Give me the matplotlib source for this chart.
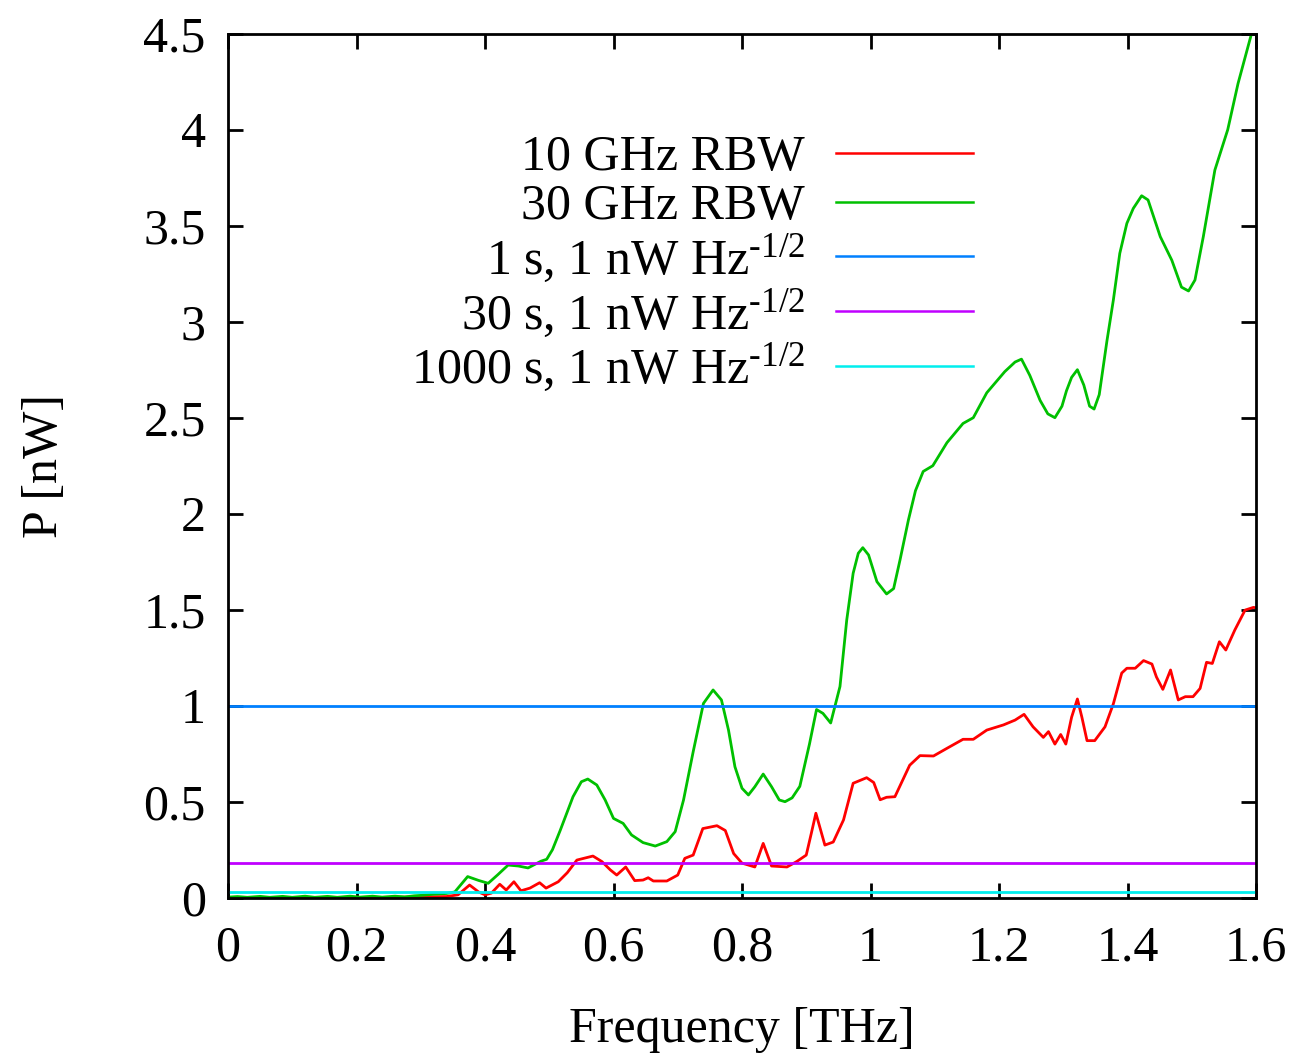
import matplotlib
matplotlib.use("Agg")
import matplotlib.pyplot as plt
import numpy as np

plt.rcParams['font.family'] = ['Liberation Serif', 'DejaVu Serif']
plt.rcParams['mathtext.fontset'] = 'custom'
plt.rcParams['mathtext.rm'] = 'Liberation Serif'
plt.rcParams['mathtext.it'] = 'Liberation Serif:italic'

# ---- data ----
freq_30 = [0.0, 0.015, 0.03, 0.05, 0.065, 0.085, 0.10, 0.12, 0.135, 0.155, 0.17, 0.19, 0.205,
           0.225, 0.24, 0.26, 0.275, 0.29, 0.30, 0.32, 0.34, 0.353, 0.363, 0.373, 0.39, 0.405,
           0.42, 0.436, 0.452, 0.467, 0.487, 0.496, 0.505, 0.517, 0.537, 0.550, 0.560, 0.574,
           0.587, 0.600, 0.615, 0.628, 0.646, 0.665, 0.683, 0.696, 0.709, 0.724, 0.740, 0.755,
           0.768, 0.779, 0.789, 0.80, 0.81, 0.82, 0.833, 0.846, 0.858, 0.867, 0.878, 0.89,
           0.905, 0.916, 0.926, 0.938, 0.9525, 0.963, 0.973, 0.981, 0.988, 0.997, 1.010, 1.025,
           1.036, 1.046, 1.059, 1.070, 1.082, 1.097, 1.119, 1.144, 1.160, 1.181, 1.209, 1.225,
           1.235, 1.248, 1.264, 1.276, 1.287, 1.298, 1.305, 1.313, 1.322, 1.332, 1.341, 1.348,
           1.356, 1.368, 1.378, 1.388, 1.399, 1.409, 1.422, 1.432, 1.451, 1.469, 1.484, 1.495,
           1.505, 1.518, 1.536, 1.556, 1.572, 1.593, 1.60]
power_30 = [0.003, 0.006, 0.002, 0.007, 0.002, 0.007, 0.002, 0.008, 0.002, 0.007, 0.002, 0.008, 0.003,
            0.008, 0.003, 0.008, 0.004, 0.010, 0.012, 0.018, 0.022, 0.03, 0.07, 0.11, 0.09, 0.075,
            0.12, 0.17, 0.165, 0.155, 0.19, 0.20, 0.25, 0.35, 0.526, 0.604, 0.618, 0.587,
            0.509, 0.413, 0.387, 0.327, 0.287, 0.269, 0.292, 0.344, 0.509, 0.76, 1.012, 1.082,
            1.03, 0.873, 0.682, 0.57, 0.535, 0.578, 0.644, 0.578, 0.509, 0.50, 0.52, 0.58,
            0.80, 0.98, 0.96, 0.91, 1.10, 1.446, 1.69, 1.794, 1.823, 1.785, 1.646, 1.582,
            1.61, 1.76, 1.967, 2.12, 2.22, 2.25, 2.37, 2.47, 2.50, 2.63, 2.74, 2.79,
            2.805, 2.72, 2.59, 2.52, 2.50, 2.56, 2.64, 2.71, 2.75, 2.67, 2.56, 2.545,
            2.62, 2.90, 3.113, 3.356, 3.512, 3.59, 3.656, 3.634, 3.443, 3.32, 3.18, 3.16,
            3.217, 3.443, 3.79, 4.0, 4.24, 4.50, 4.55]

freq_10 = [0.0, 0.1, 0.2, 0.30, 0.34, 0.358, 0.376, 0.39, 0.40, 0.41, 0.423, 0.433, 0.445, 0.456,
           0.47, 0.485, 0.495, 0.514, 0.528, 0.543, 0.568, 0.582, 0.595, 0.605, 0.619, 0.633,
           0.646, 0.654, 0.662, 0.683, 0.700, 0.711, 0.724, 0.739, 0.761, 0.774, 0.787, 0.80,
           0.82, 0.833, 0.846, 0.87, 0.885, 0.90, 0.908, 0.915, 0.929, 0.942, 0.958, 0.973,
           0.994, 1.005, 1.015, 1.025, 1.038, 1.061, 1.077, 1.098, 1.119, 1.144, 1.16, 1.181,
           1.207, 1.225, 1.239, 1.253, 1.269, 1.277, 1.287, 1.296, 1.304, 1.313, 1.322, 1.329,
           1.337, 1.349, 1.365, 1.378, 1.391, 1.399, 1.412, 1.425, 1.438, 1.445, 1.455, 1.467,
           1.479, 1.490, 1.502, 1.513, 1.523, 1.532, 1.543, 1.553, 1.567, 1.583, 1.596, 1.60]
power_10 = [0.0, 0.0, 0.0, 0.004, 0.006, 0.015, 0.066, 0.03, 0.015, 0.024, 0.07, 0.04, 0.083, 0.036,
            0.05, 0.078, 0.05, 0.083, 0.13, 0.196, 0.217, 0.188, 0.145, 0.118, 0.16, 0.089,
            0.092, 0.104, 0.087, 0.087, 0.118, 0.205, 0.222, 0.36, 0.375, 0.35, 0.23, 0.18,
            0.16, 0.283, 0.165, 0.16, 0.188, 0.222, 0.337, 0.44, 0.274, 0.29, 0.405, 0.596,
            0.625, 0.60, 0.51, 0.523, 0.526, 0.69, 0.74, 0.738, 0.778, 0.825, 0.825, 0.873,
            0.90, 0.925, 0.955, 0.89, 0.835, 0.865, 0.80, 0.85, 0.80, 0.94, 1.035, 0.94,
            0.818, 0.818, 0.89, 1.01, 1.17, 1.195, 1.195, 1.235, 1.217, 1.15, 1.085, 1.186,
            1.03, 1.047, 1.047, 1.09, 1.226, 1.22, 1.333, 1.29, 1.394, 1.498, 1.512, 1.51]

# NEP-limited sensitivity levels: 1 nW Hz^-1/2 integrated over t seconds
nep = 1.0
times = [1, 30, 1000]

labels = ['10 GHz RBW', '30 GHz RBW',
          r'1 s, 1 nW Hz$^{\text{-}1/2}$',
          r'30 s, 1 nW Hz$^{\text{-}1/2}$',
          r'1000 s, 1 nW Hz$^{\text{-}1/2}$']
colors = ['#ff0000', '#00c000', '#0080ff', '#c000ff', '#00eeee']

xticks = [0, 0.2, 0.4, 0.6, 0.8, 1.0, 1.2, 1.4, 1.6]
xticklabels = ['0', '0.2', '0.4', '0.6', '0.8', '1', '1.2', '1.4', '1.6']
yticks = [0, 0.5, 1, 1.5, 2, 2.5, 3, 3.5, 4, 4.5]
yticklabels = ['0', '0.5', '1', '1.5', '2', '2.5', '3', '3.5', '4', '4.5']

fig = plt.figure(figsize=(12.98, 10.53), dpi=100)
ax = fig.add_axes([228 / 1298, 1 - 897.7 / 1053, (1256 - 228) / 1298, (897.7 - 33.7) / 1053])

LW = 2.0
ax.plot(freq_10, power_10, color=colors[0], lw=LW, label=labels[0])
ax.plot(freq_30, power_30, color=colors[1], lw=LW, label=labels[1])
for t, c, lab in zip(times, colors[2:], labels[2:]):
    ax.axhline(nep / np.sqrt(t), color=c, lw=LW, label=lab)

FS = 36
ax.set_xlim(0, 1.6)
ax.set_ylim(0, 4.5)
ax.set_xticks(xticks)
ax.set_xticklabels(xticklabels)
ax.set_yticks(yticks)
ax.set_yticklabels(yticklabels)
ax.tick_params(direction='in', length=11, width=2, labelsize=FS,
               top=True, right=True)
ax.tick_params(axis='y', pad=16)
ax.tick_params(axis='x', pad=20)
for s in ax.spines.values():
    s.set_linewidth(2)

ax.set_xlabel('Frequency [THz]', fontsize=FS, labelpad=25)
ax.set_ylabel('P [nW]', fontsize=FS, labelpad=54)

leg = ax.legend(loc='upper right', bbox_to_anchor=((973 - 228) / 1028, 0.883),
                markerfirst=False, frameon=False, fontsize=FS, handlelength=2.74,
                handletextpad=0.62, labelspacing=0.05, borderpad=0, borderaxespad=0)
for line in leg.get_lines():
    line.set_linewidth(1.8)

fig.savefig('out.png', dpi=100)
